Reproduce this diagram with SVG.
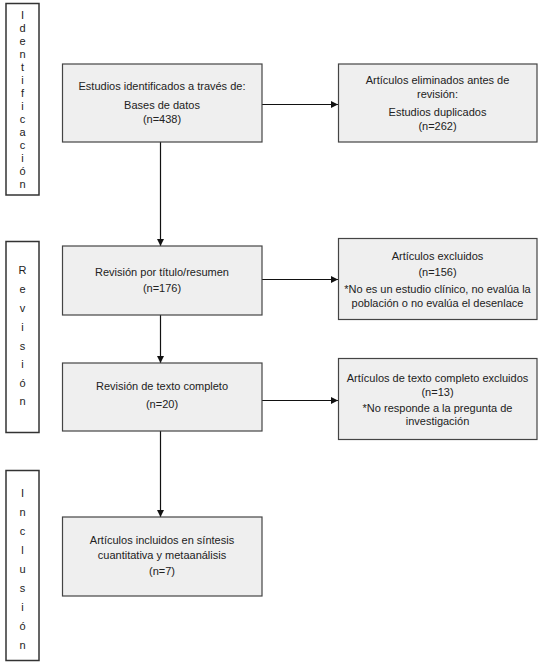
<svg xmlns="http://www.w3.org/2000/svg" width="543" height="665" viewBox="0 0 543 665">
<defs>
<marker id="ah" viewBox="0 0 10 10" refX="10" refY="5" markerWidth="7" markerHeight="7" markerUnits="userSpaceOnUse" orient="auto">
<path d="M0,0 L10,5 L0,10 z" fill="#111"/>
</marker>
</defs>
<style>
.box{fill:#efefef;stroke:#444;stroke-width:1.2}
.side{fill:#fff;stroke:#333;stroke-width:1.5}
text{font-family:"Liberation Sans",Arial,sans-serif;font-size:11px;fill:#222;text-anchor:middle}
.conn{stroke:#111;stroke-width:1.2;fill:none}
</style>
<rect width="543" height="665" fill="#fff"/>
<g id="stage-identificacion">
<rect class="side" x="6" y="3.5" width="33" height="191.5"/>
<text x="22.5" y="19">I</text><text x="22.5" y="32">d</text><text x="22.5" y="45">e</text><text x="22.5" y="58">n</text><text x="22.5" y="71">t</text><text x="22.5" y="84">i</text><text x="22.5" y="97">f</text><text x="22.5" y="110">i</text><text x="22.5" y="123">c</text><text x="22.5" y="136">a</text><text x="22.5" y="149">c</text><text x="22.5" y="162">i</text><text x="22.5" y="175">ó</text><text x="22.5" y="188">n</text>
</g>
<g id="stage-revision">
<rect class="side" x="6" y="241.5" width="33" height="191"/>
<text x="22.5" y="274">R</text><text x="22.5" y="293">e</text><text x="22.5" y="312">v</text><text x="22.5" y="331">i</text><text x="22.5" y="350">s</text><text x="22.5" y="368">i</text><text x="22.5" y="387">ó</text><text x="22.5" y="405">n</text>
</g>
<g id="stage-inclusion">
<rect class="side" x="6" y="470.5" width="33" height="190"/>
<text x="22.5" y="497">I</text><text x="22.5" y="516">n</text><text x="22.5" y="535">c</text><text x="22.5" y="554">l</text><text x="22.5" y="573">u</text><text x="22.5" y="592">s</text><text x="22.5" y="611">i</text><text x="22.5" y="630">ó</text><text x="22.5" y="649">n</text>
</g>
<g id="connectors">
<line class="conn" x1="262" y1="104.5" x2="338" y2="104.5" marker-end="url(#ah)"/>
<line class="conn" x1="160.5" y1="142" x2="160.5" y2="246" marker-end="url(#ah)"/>
<line class="conn" x1="262" y1="279.5" x2="338" y2="279.5" marker-end="url(#ah)"/>
<line class="conn" x1="160.5" y1="315" x2="160.5" y2="363" marker-end="url(#ah)"/>
<line class="conn" x1="262" y1="400.5" x2="338" y2="400.5" marker-end="url(#ah)"/>
<line class="conn" x1="160.5" y1="431" x2="160.5" y2="517" marker-end="url(#ah)"/>
</g>
<g id="node-identificados">
<rect class="box" x="62.5" y="64" width="199.5" height="78"/>
<text x="162" y="90">Estudios identificados a través de:</text>
<text x="162" y="109">Bases de datos</text>
<text x="162" y="123">(n=438)</text>
</g>
<g id="node-eliminados">
<rect class="box" x="338.5" y="64" width="198.5" height="78"/>
<text x="437.5" y="84">Artículos eliminados antes de</text>
<text x="437.5" y="98">revisión:</text>
<text x="437.5" y="116">Estudios duplicados</text>
<text x="437.5" y="130">(n=262)</text>
</g>
<g id="node-titulo">
<rect class="box" x="62.5" y="246" width="199.5" height="69"/>
<text x="162" y="275.5">Revisión por título/resumen</text>
<text x="162" y="292">(n=176)</text>
</g>
<g id="node-excluidos">
<rect class="box" x="338.5" y="238.5" width="198.5" height="81"/>
<text x="437.5" y="260">Artículos excluidos</text>
<text x="437.5" y="276">(n=156)</text>
<text x="437.5" y="293">*No es un estudio clínico, no evalúa la</text>
<text x="437.5" y="307">población o no evalúa el desenlace</text>
</g>
<g id="node-texto">
<rect class="box" x="62.5" y="363" width="199.5" height="68"/>
<text x="162" y="390">Revisión de texto completo</text>
<text x="162" y="408">(n=20)</text>
</g>
<g id="node-texto-excluidos">
<rect class="box" x="338.5" y="358.5" width="198.5" height="81"/>
<text x="437.5" y="382">Artículos de texto completo excluidos</text>
<text x="437.5" y="396">(n=13)</text>
<text x="437.5" y="412">*No responde a la pregunta de</text>
<text x="437.5" y="425">investigación</text>
</g>
<g id="node-incluidos">
<rect class="box" x="62.5" y="517" width="199.5" height="79"/>
<text x="162" y="544">Artículos incluidos en síntesis</text>
<text x="162" y="559">cuantitativa y metaanálisis</text>
<text x="162" y="575">(n=7)</text>
</g>
</svg>
